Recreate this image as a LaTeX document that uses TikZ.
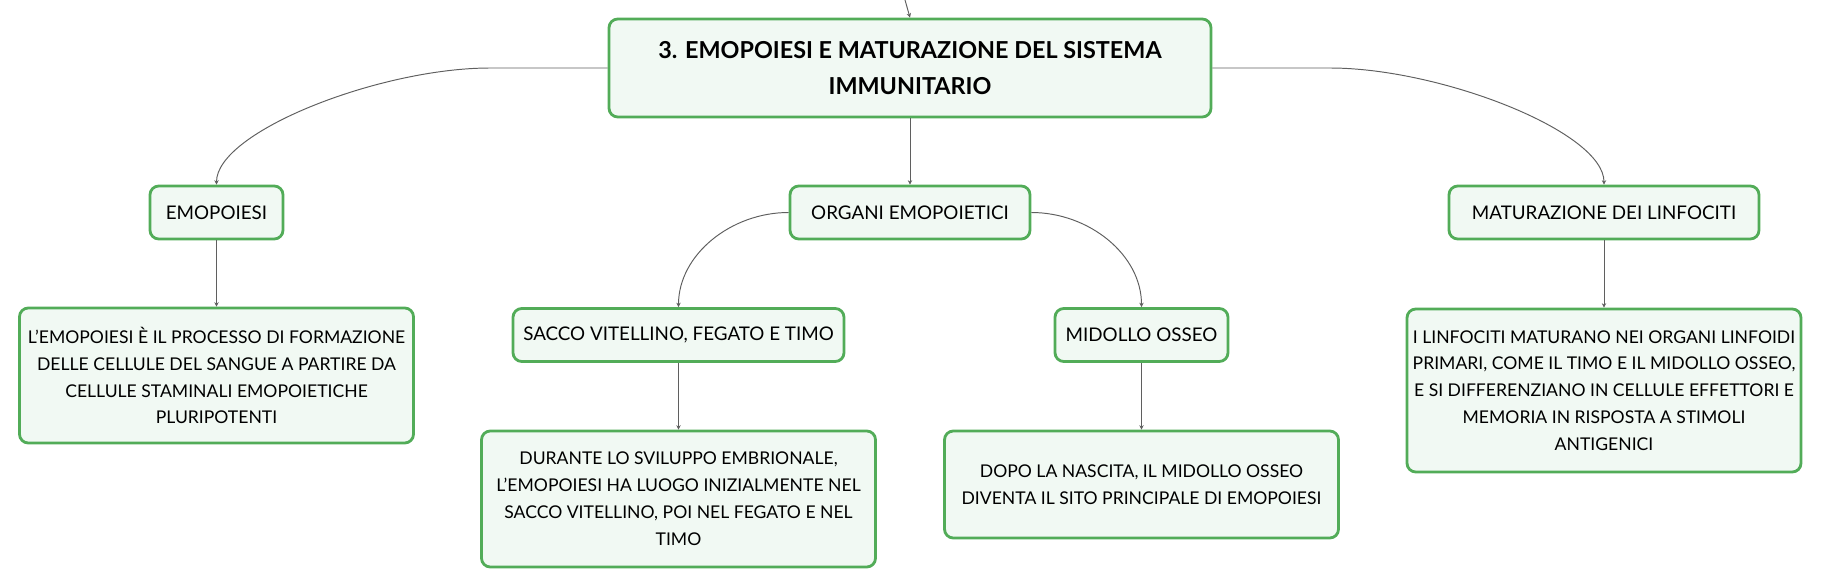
\documentclass[tikz,border=0pt]{standalone}
\usepackage{fontspec}
\setmainfont{Lato}
\usetikzlibrary{arrows.meta}
\definecolor{mapgreen}{RGB}{82,172,88}
\definecolor{mapfill}{RGB}{241,249,243}
\definecolor{mapline}{RGB}{95,95,95}

\begin{document}
\begin{tikzpicture}[
    root/.style={rectangle, draw=mapgreen, fill=mapfill, line width=1.6pt, rounded corners=5pt, minimum width=12.04cm, minimum height=1.96cm, align=center, font=\fontsize{13.3}{20.6}\selectfont\bfseries},
    topic/.style={rectangle, draw=mapgreen, fill=mapfill, line width=1.6pt, rounded corners=5pt, minimum height=1.06cm, align=center, font=\fontsize{10.7}{15.3}\selectfont},
    note/.style={topic, minimum width=7.88cm, inner sep=2pt, font=\fontsize{10}{15.3}\selectfont},
    link/.style={->, >={Stealth[length=2.5pt,width=2.5pt]}, draw=mapline, line width=0.55pt}
]
\useasboundingbox (0,0) rectangle (36.42,-11.72);

% Root
\coordinate (parent) at (18.1,0);
\node[root] (root) at (18.2,-1.36) {3. EMOPOIESI E MATURAZIONE DEL SISTEMA\\IMMUNITARIO};

% Main topics
\node[topic, minimum width=2.66cm] (emo) at (4.33,-4.25) {EMOPOIESI};
\node[topic, minimum width=4.8cm] (organi) at (18.2,-4.25) {ORGANI EMOPOIETICI};
\node[topic, minimum width=6.2cm] (matur) at (32.08,-4.25) {MATURAZIONE DEI LINFOCITI};

% Organs
\node[topic, minimum width=6.62cm] (sacco) at (13.57,-6.7) {SACCO VITELLINO, FEGATO E TIMO};
\node[topic, minimum width=3.46cm] (midollo) at (22.83,-6.7) {MIDOLLO OSSEO};

% Notes
\node[note, minimum height=2.7cm] (emo_note) at (4.33,-7.51) {L'EMOPOIESI È IL PROCESSO DI FORMAZIONE\\DELLE CELLULE DEL SANGUE A PARTIRE DA\\CELLULE STAMINALI EMOPOIETICHE\\PLURIPOTENTI};
\node[note, minimum height=2.72cm] (sacco_note) at (13.57,-9.98) {DURANTE LO SVILUPPO EMBRIONALE,\\L'EMOPOIESI HA LUOGO INIZIALMENTE NEL\\SACCO VITELLINO, POI NEL FEGATO E NEL\\TIMO};
\node[note, minimum height=2.14cm] (midollo_note) at (22.83,-9.69) {DOPO LA NASCITA, IL MIDOLLO OSSEO\\DIVENTA IL SITO PRINCIPALE DI EMOPOIESI};
\node[note, minimum height=3.26cm] (matur_note) at (32.08,-7.81) {I LINFOCITI MATURANO NEI ORGANI LINFOIDI\\PRIMARI, COME IL TIMO E IL MIDOLLO OSSEO,\\E SI DIFFERENZIANO IN CELLULE EFFETTORI E\\MEMORIA IN RISPOSTA A STIMOLI\\ANTIGENICI};

% Links
\draw[link] (parent) -- (root.north);
\draw[link] (root.west) -- (9.8,-1.36) .. controls +(-2.2,0) and +(0,1.06) .. (emo.north);
\draw[link] (root.south) -- (organi.north);
\draw[link] (root.east) -- (26.6,-1.36) .. controls +(2.2,0) and +(0,1.06) .. (matur.north);
\draw[link] (organi.west) .. controls +(-1.15,0) and +(0,1.05) .. (sacco.north);
\draw[link] (organi.east) .. controls +(1.15,0) and +(0,1.05) .. (midollo.north);
\draw[link] (emo.south) -- (emo_note.north);
\draw[link] (sacco.south) -- (sacco_note.north);
\draw[link] (midollo.south) -- (midollo_note.north);
\draw[link] (matur.south) -- (matur_note.north);

\end{tikzpicture}
\end{document}
